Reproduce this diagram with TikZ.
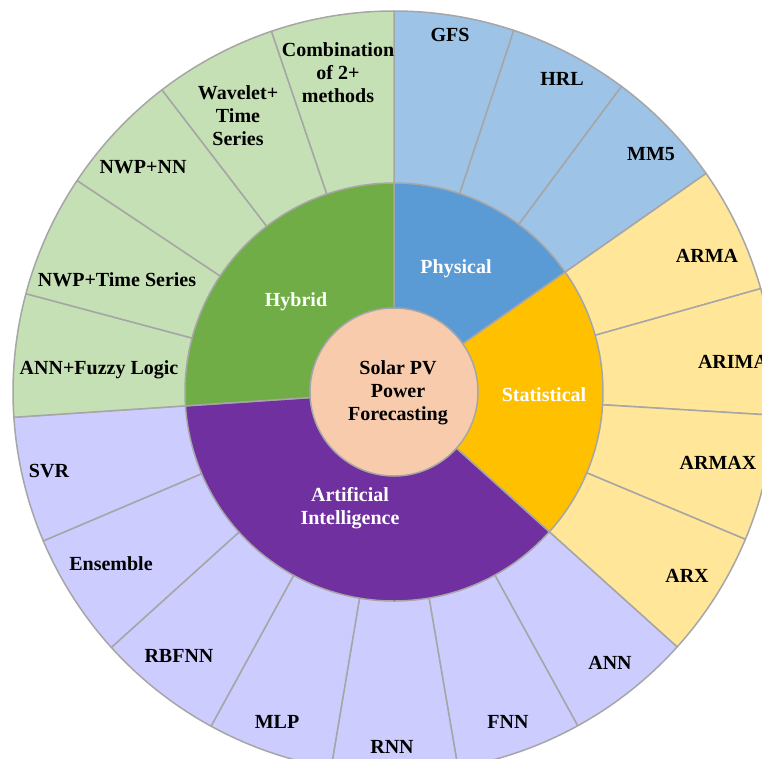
\documentclass[tikz,border=0pt]{standalone}
\usepackage{fontspec}
\setmainfont{Liberation Serif}
\definecolor{phys}{HTML}{5B9BD5}
\definecolor{physL}{HTML}{9DC3E6}
\definecolor{stat}{HTML}{FFC000}
\definecolor{statL}{HTML}{FFE699}
\definecolor{ai}{HTML}{7030A0}
\definecolor{aiL}{HTML}{CCCCFF}
\definecolor{hyb}{HTML}{70AD47}
\definecolor{hybL}{HTML}{C5E0B4}
\definecolor{core}{HTML}{F8CBAD}
\definecolor{edge}{HTML}{A6A6A6}
\begin{document}
\begin{tikzpicture}[x=1pt,y=1pt,
  wedge/.style={draw=edge,line width=1.5pt,line join=round},
  lbl/.style={font=\bfseries\fontsize{20}{23}\selectfont,align=center,inner sep=0pt},
  wlbl/.style={lbl,text=white}]
\useasboundingbox (0,0) rectangle (762,-758);
\begin{scope}[shift={(394pt,-392pt)}]
  % outer leaves
  \foreach \a/\b/\c in {
    90/71.67/physL, 71.67/53.33/physL, 53.33/35/physL,
    35/15.75/statL, 15.75/-3.5/statL, -3.5/-22.75/statL, -22.75/-42/statL,
    -42/-61.17/aiL, -61.17/-80.34/aiL, -80.34/-99.5/aiL, -99.5/-118.7/aiL,
    -118.7/-137.9/aiL, -137.9/-157.0/aiL, -157.0/-176.2/aiL,
    183.8/165.04/hybL, 165.04/146.28/hybL, 146.28/127.52/hybL,
    127.52/108.76/hybL, 108.76/90/hybL}
    \filldraw[wedge,fill=\c] (0,0) -- (\a:381pt) arc[start angle=\a,end angle=\b,radius=381pt] -- cycle;
  % categories
  \foreach \a/\b/\c in {90/35/phys, 35/-42/stat, -42/-176.2/ai, 183.8/90/hyb}
    \filldraw[wedge,fill=\c] (0,0) -- (\a:209pt) arc[start angle=\a,end angle=\b,radius=209pt] -- cycle;
  \filldraw[draw=edge,line width=1.5pt,fill=core] (0,0) circle[radius=84pt];
\end{scope}
% center text
\node[lbl] (core) at (398,-393) {Solar PV\\Power\\Forecasting};
% category labels
\node[wlbl] (physical) at (456,-269) {Physical};
\node[wlbl] (statistical) at (544,-395) {Statistical};
\node[wlbl] (ai) at (350,-508) {Artificial\\Intelligence};
\node[wlbl] (hybrid) at (296,-302) {Hybrid};
% leaves
\node[lbl] (gfs) at (450,-35) {GFS};
\node[lbl] (hrl) at (562,-79) {HRL};
\node[lbl] (mm5) at (651,-154) {MM5};
\node[lbl] (arma) at (707,-256) {ARMA};
\node[lbl] (arima) at (733,-362) {ARIMA};
\node[lbl] (armax) at (718,-463) {ARMAX};
\node[lbl] (arx) at (687,-576) {ARX};
\node[lbl] (ann) at (610,-663) {ANN};
\node[lbl] (fnn) at (508,-722) {FNN};
\node[lbl] (rnn) at (392,-747) {RNN};
\node[lbl] (mlp) at (277,-722) {MLP};
\node[lbl] (rbfnn) at (179,-656) {RBFNN};
\node[lbl] (ensemble) at (111,-564) {Ensemble};
\node[lbl] (svr) at (49,-471) {SVR};
\node[lbl] (annfuzzy) at (99,-370) {ANN+Fuzzy Logic};
\node[lbl] (nwpts) at (117,-280) {NWP+Time Series};
\node[lbl] (nwpnn) at (143,-167) {NWP+NN};
\node[lbl] (wavelet) at (238,-116) {Wavelet+\\Time\\Series};
\node[lbl] (combo) at (338,-73) {Combination\\of 2+\\methods};
\end{tikzpicture}
\end{document}
